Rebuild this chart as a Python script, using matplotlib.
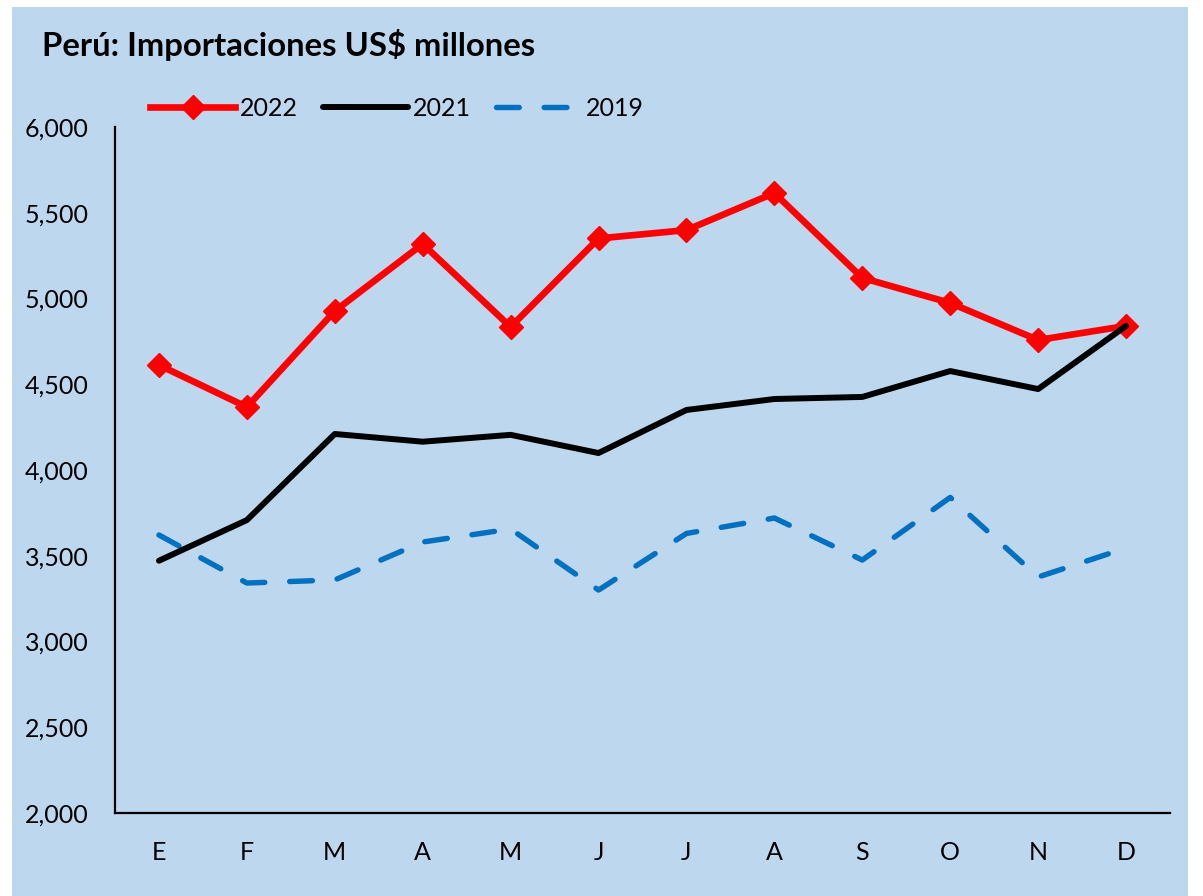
import matplotlib
matplotlib.use("Agg")
import matplotlib.pyplot as plt
from matplotlib.patches import Rectangle
from matplotlib.ticker import FuncFormatter
import numpy as np

plt.rcParams["font.family"] = ["Lato", "DejaVu Sans"]

MONTHS = ["E", "F", "M", "A", "M", "J", "J", "A", "S", "O", "N", "D"]
IMP_2022 = [4612, 4367, 4927, 5318, 4834, 5350, 5399, 5615, 5120, 4974, 4758, 4840]
IMP_2021 = [3471, 3708, 4210, 4165, 4205, 4099, 4350, 4414, 4426, 4577, 4472, 4840]
IMP_2019 = [3621, 3341, 3359, 3580, 3656, 3300, 3630, 3720, 3475, 3840, 3376, 3545]
Y_TICKS = [2000, 2500, 3000, 3500, 4000, 4500, 5000, 5500, 6000]

BG = "#BDD7EE"
W, H = 1203, 896

fig = plt.figure(figsize=(W / 100, H / 100), dpi=100, facecolor="white")
# light-blue chart area with a thin white margin, like the Excel export
fig.patches.append(Rectangle((12 / W, 0), (1188 - 12) / W, 1 - 7 / H,
                             transform=fig.transFigure, facecolor=BG,
                             edgecolor="none", zorder=-10))

ax = fig.add_axes([115 / W, 1 - 813 / H, (1170 - 115) / W, (813 - 127) / H])
ax.set_facecolor("none")

xs = np.arange(len(MONTHS))
ax.plot(xs, IMP_2022, color="#FF0000", lw=4.8, marker="D", ms=12,
        mec="#FF0000", label="2022", zorder=3)
ax.plot(xs, IMP_2021, color="black", lw=4.3, solid_capstyle="round",
        label="2021", zorder=4)
ax.plot(xs, IMP_2019, color="#0070C0", lw=3.9, dashes=(4.2, 4.6),
        dash_capstyle="round", label="2019", zorder=2)

ax.set_xlim(-0.5, len(MONTHS) - 0.5)
ax.set_ylim(2000, 6000)
ax.set_xticks(xs)
ax.set_xticklabels(MONTHS)
ax.set_yticks(Y_TICKS)
ax.yaxis.set_major_formatter(FuncFormatter(lambda v, p: f"{int(v):,}"))
ax.tick_params(axis="both", length=0, labelsize=18, colors="black")
ax.tick_params(axis="y", pad=19)
ax.tick_params(axis="x", pad=20)

for s in ["top", "right"]:
    ax.spines[s].set_visible(False)
for s in ["left", "bottom"]:
    ax.spines[s].set_linewidth(1.6)
    ax.spines[s].set_color("black")

fig.text(42 / W, 1 - 45 / H, "Perú: Importaciones US$ millones",
         fontsize=23.7, fontweight="bold", va="center", ha="left")

ax.legend(loc="center left", bbox_to_anchor=(150 / W, 1 - 108 / H),
          bbox_transform=fig.transFigure, ncol=3, frameon=False,
          fontsize=18, handlelength=3.4, handletextpad=0.2,
          columnspacing=1.0, borderpad=0, borderaxespad=0)

fig.savefig("out.png", dpi=100, facecolor="white")
